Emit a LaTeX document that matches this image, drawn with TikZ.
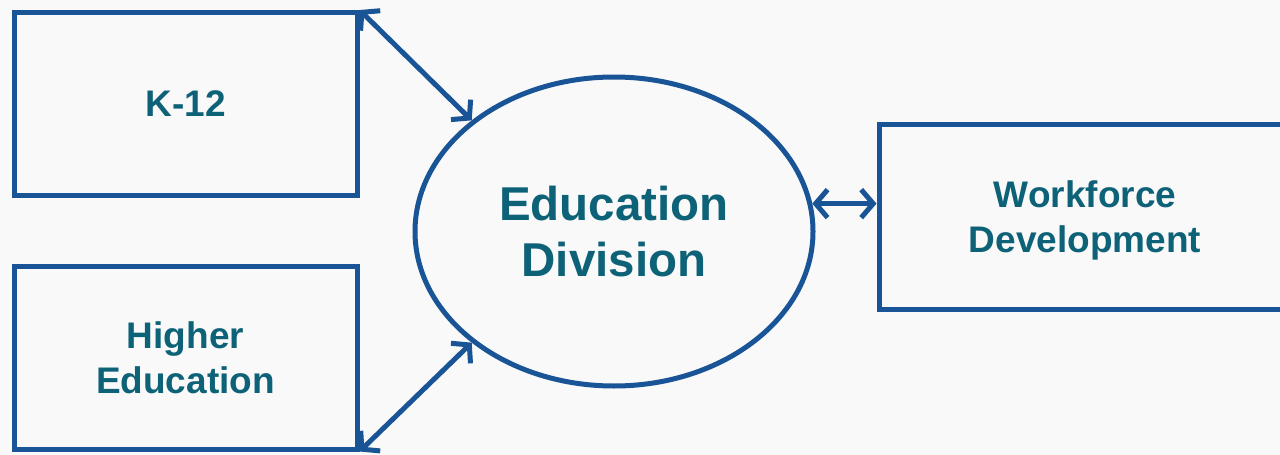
\documentclass[tikz,border=0pt]{standalone}
\usepackage{fontspec}
\setmainfont{Liberation Sans}
\usetikzlibrary{arrows.meta,shapes.geometric}
\definecolor{edge_blue}{RGB}{24,84,150}
\definecolor{text_teal}{RGB}{14,98,120}
\definecolor{back_gray}{RGB}{249,249,249}
\begin{document}
\begin{tikzpicture}[x=1pt,y=-1pt,<->,>={Straight Barb[length=12pt,width=28pt]}]
    \tikzstyle{unit}=[draw=edge_blue, line width=5pt, rectangle, inner sep=0pt, minimum width=343pt, minimum height=183pt, align=center, text depth=0pt, text=text_teal, font=\fontsize{37}{45}\selectfont\bfseries]
    \tikzstyle{hub}=[style=unit, ellipse, minimum width=398pt, minimum height=309pt, font=\fontsize{47.5}{56}\selectfont\bfseries]
    \tikzstyle{link}=[draw=edge_blue, line width=5pt]

    \clip (0,0) rectangle (1280,455);
    \fill[back_gray] (0,0) rectangle (1280,455);

    \node[unit] (k12) at (185.5,104)   {K-12};
    \node[unit] (he)  at (185.5,357.5) {Higher\\Education};
    \node[hub]  (edu) at (614,231.5)   {Education\\Division};
    \node[unit, minimum width=412pt, minimum height=185pt] (wf) at (1085,216.5) {Workforce\\Development};

    \path
     (k12.north east) edge[link] (edu.142)
     (he.south east)  edge[link] (edu.218)
     (edu.8)          edge[link] (edu.8 -| wf.west)
     ;
\end{tikzpicture}
\end{document}
